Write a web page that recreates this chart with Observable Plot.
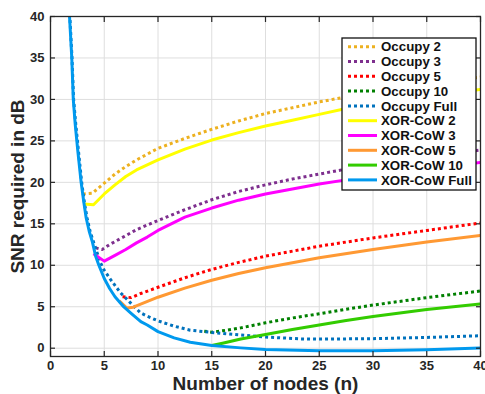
<!DOCTYPE html>
<html><head><meta charset="utf-8">
<script src="https://cdn.jsdelivr.net/npm/d3@7"></script>
<script src="https://cdn.jsdelivr.net/npm/@observablehq/plot@0.6"></script>
<style>
body{margin:0;background:#fff;}
#chart{width:485px;height:394px;}
#chart svg text{font-weight:bold;}
</style></head><body><div id="chart"></div>
<script>
const xTicks = [0, 5, 10, 15, 20, 25, 30, 35, 40];
const yTicks = [0, 5, 10, 15, 20, 25, 30, 35, 40];
const xLabel = "Number of nodes (n)";
const yLabel = "SNR required in dB";

const seriesNames = ["Occupy 2", "Occupy 3", "Occupy 5", "Occupy 10", "Occupy Full",
  "XOR-CoW 2", "XOR-CoW 3", "XOR-CoW 5", "XOR-CoW 10", "XOR-CoW Full"];
const seriesColors = ["#edb120", "#7e2f8e", "#ff0000", "#008000", "#0072bd",
  "#ffff00", "#ff00ff", "#ff9933", "#33cc00", "#0099ee"];
const seriesDotted = [true, true, true, true, true, false, false, false, false, false];

const occupy2 = [[3.0,18.6],[3.9,18.7],[5,19.9],[6,21.0],[7,21.9],[8,22.7],[10,24.1],[12.5,25.3],[15,26.4],[17.5,27.4],[20,28.3],[22.5,29.0],[25,29.7],[27.5,30.3],[30,30.8],[35,31.8],[40,32.7]];
const occupy3 = [[4.2,12.1],[4.8,11.9],[5.5,12.5],[6.9,13.5],[8,14.3],[10,15.4],[12.5,16.7],[15,17.9],[17.5,18.9],[20,19.7],[22.5,20.4],[25,21.0],[27.5,21.6],[30,22.1],[35,23.0],[40,23.9]];
const occupy5 = [[6.7,6.2],[7.5,6.1],[8.4,6.6],[10,7.35],[12.5,8.5],[15,9.5],[17.5,10.35],[20,11.1],[25,12.3],[30,13.3],[35,14.2],[40,15.1]];
const occupy10 = [[14.3,2.05],[15,1.93],[16,2.1],[17.7,2.45],[20,3.06],[22.5,3.65],[25,4.15],[27.5,4.7],[30,5.2],[35,6.1],[40,6.9]];
const occupyFull = [[1.72,41],[1.8,40],[2.0,35],[2.15,30],[2.35,27],[2.6,23.8],[2.9,20],[3.15,17.6],[3.4,15.7],[3.7,14],[4.03,12.7],[4.65,10.3],[5.0,9.4],[5.58,8.3],[6.5,6.7],[7.44,5.47],[8.37,4.27],[9,3.86],[10,3.3],[11.5,2.66],[13,2.17],[15,1.9],[17.7,1.6],[20,1.35],[23.3,1.12],[25,1.1],[30,1.15],[35,1.3],[40,1.5]];
const xor2 = [[3.1,17.4],[4,17.3],[5,18.6],[6,19.7],[7,20.7],[8,21.5],[10,22.7],[12.5,24.0],[15,25.1],[17.5,26.0],[20,26.8],[22.5,27.5],[25,28.2],[27.5,28.9],[30,29.4],[35,30.4],[40,31.2]];
const xor3 = [[4.0,11.4],[5,10.5],[6,11.2],[7,11.9],[8,12.7],[9,13.4],[10,14.2],[12.5,15.8],[15,16.9],[17.5,17.85],[20,18.6],[22.5,19.2],[25,19.8],[27.5,20.3],[30,20.8],[35,21.6],[40,22.4]];
const xor5 = [[6.4,5.7],[7.1,4.85],[7.7,4.95],[10,6.15],[12.5,7.25],[15,8.2],[17.5,9.0],[20,9.7],[25,10.9],[30,11.9],[35,12.8],[40,13.6]];
const xor10 = [[15,0.32],[16,0.6],[17.7,1.1],[20,1.65],[22.5,2.25],[25,2.8],[27.5,3.35],[30,3.82],[35,4.67],[40,5.35]];
const xorFull = [[1.7,41.5],[1.77,40],[1.98,35],[2.12,30],[2.3,27],[2.54,23.8],[2.85,20],[3.1,17.6],[3.32,15.7],[3.6,14.1],[3.9,12.8],[4.2,11.1],[4.5,10.0],[5,8.4],[5.5,7.2],[6,6.2],[6.8,5.0],[7.5,4.2],[8.4,3.2],[9,2.8],[10,2.0],[11.5,1.25],[13,0.72],[15,0.32],[17.7,0.04],[20,-0.15],[25,-0.3],[30,-0.3],[35,-0.2],[40,0.03]];

const seriesData = [occupy2, occupy3, occupy5, occupy10, occupyFull, xor2, xor3, xor5, xor10, xorFull];

const FONT = "'Liberation Sans', Arial, Helvetica, sans-serif";
const INK = "#262626";

const lineMarks = seriesData.map((pts, i) => Plot.line(pts, {
  x: d => d[0], y: d => d[1],
  stroke: seriesColors[i],
  strokeWidth: 3,
  strokeDasharray: seriesDotted[i] ? "3,3" : null,
  strokeLinecap: "butt",
  clip: true
}));

const chart = Plot.plot({
  width: 485, height: 394,
  marginLeft: 50, marginRight: 5, marginTop: 16, marginBottom: 38,
  style: {fontFamily: FONT, background: "white", overflow: "visible"},
  x: {domain: [0, 40]},
  y: {domain: [-1, 40]},
  marks: [
    Plot.gridX(xTicks, {stroke: "#dedede", strokeOpacity: 1, strokeWidth: 1}),
    Plot.gridY(yTicks, {stroke: "#dedede", strokeOpacity: 1, strokeWidth: 1}),
    ...lineMarks,
    Plot.frame({stroke: INK, strokeWidth: 1.3}),
    Plot.axisX(xTicks, {anchor: "bottom", tickSize: 0, tickPadding: 4, fontSize: 13, fill: INK, label: null}),
    Plot.axisY(yTicks, {anchor: "left", tickSize: 0, tickPadding: 6, fontSize: 13, fill: INK, label: null}),
    Plot.axisX(xTicks, {anchor: "bottom", tickSize: 5, dy: -5, stroke: INK, strokeWidth: 1.2, tickFormat: () => "", label: null}),
    Plot.axisX(xTicks, {anchor: "top", tickSize: 5, dy: 5, stroke: INK, strokeWidth: 1.2, tickFormat: () => "", label: null}),
    Plot.axisY(yTicks, {anchor: "left", tickSize: 5, dx: 5, stroke: INK, strokeWidth: 1.2, tickFormat: () => "", label: null}),
    Plot.axisY(yTicks, {anchor: "right", tickSize: 5, dx: -5, stroke: INK, strokeWidth: 1.2, tickFormat: () => "", label: null}),
    Plot.text([xLabel], {frameAnchor: "bottom", dy: 27, lineAnchor: "middle", textAnchor: "middle", text: d => d, fontSize: 19, fill: INK}),
    Plot.text([yLabel], {frameAnchor: "left", dx: -33, rotate: -90, lineAnchor: "middle", textAnchor: "middle", text: d => d, fontSize: 19, fill: INK})
  ]
});

const svg = d3.select(chart);

// Legend (inside plot, upper right)
const lg = svg.append("g").attr("font-family", FONT).attr("text-anchor", "start");
const box = {x: 342, y: 38, w: 134, h: 152};
lg.append("rect").attr("x", box.x).attr("y", box.y).attr("width", box.w).attr("height", box.h)
  .attr("fill", "white").attr("stroke", "#111").attr("stroke-width", 1.3);
const rowH = 14.8, row0 = 46.7;
seriesNames.forEach((name, i) => {
  const cy = row0 + i * rowH;
  lg.append("line").attr("x1", 348).attr("x2", 377).attr("y1", cy).attr("y2", cy)
    .attr("stroke", seriesColors[i]).attr("stroke-width", 3)
    .attr("stroke-dasharray", seriesDotted[i] ? "3,3" : null);
  lg.append("text").attr("x", 381).attr("y", cy).attr("dy", "0.36em")
    .attr("font-size", 13.3).attr("fill", "#111").text(name);
});

document.getElementById("chart").appendChild(chart);
</script>
</body></html>
